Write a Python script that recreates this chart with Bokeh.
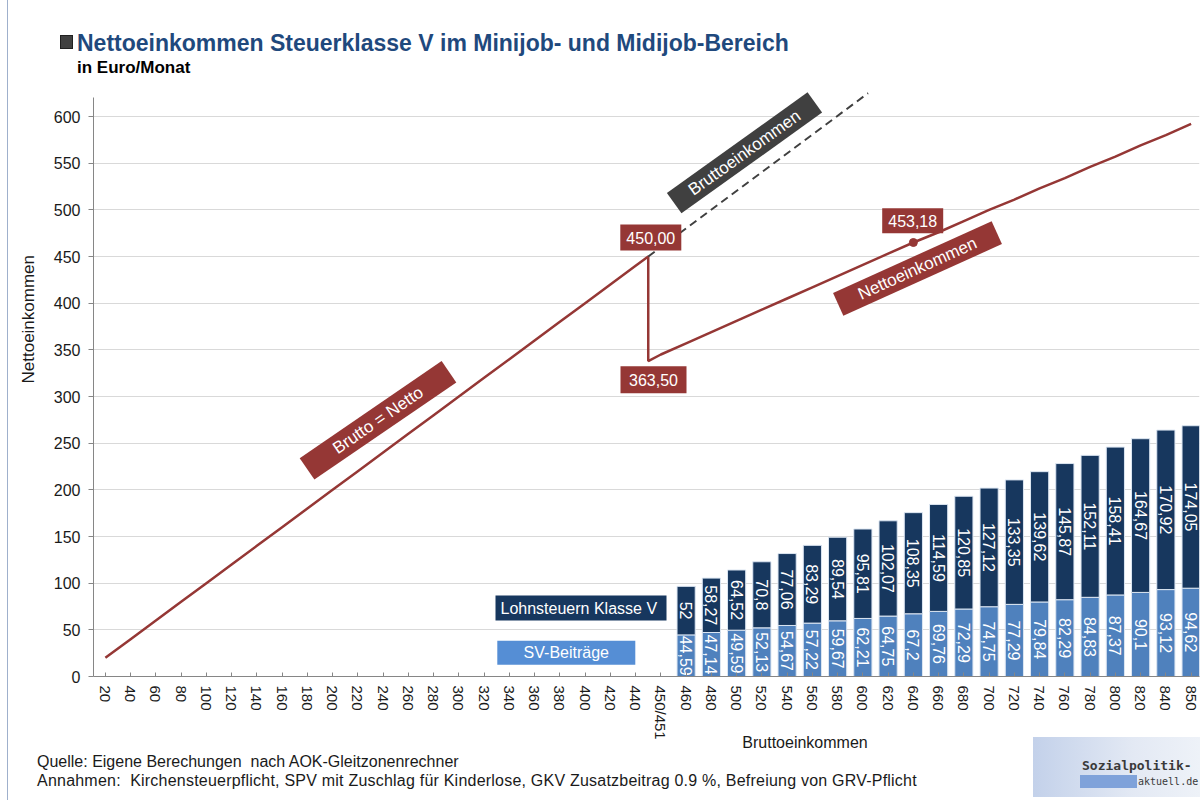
import math
from bokeh.plotting import figure
from bokeh.models import FixedTicker, Range1d, Title, Div
from bokeh.layouts import column
from bokeh.core.properties import value
from bokeh.embed import file_html
from bokeh.resources import INLINE

# ---------------- data ----------------
categories = ["20", "40", "60", "80", "100", "120", "140", "160", "180", "200",
              "220", "240", "260", "280", "300", "320", "340", "360", "380", "400",
              "420", "440", "450/451", "460", "480", "500", "520", "540", "560", "580",
              "600", "620", "640", "660", "680", "700", "720", "740", "760", "780",
              "800", "820", "840", "850"]

bar_categories = ["460", "480", "500", "520", "540", "560", "580", "600", "620", "640",
                  "660", "680", "700", "720", "740", "760", "780", "800", "820", "840", "850"]
sv_beitraege = [44.59, 47.14, 49.59, 52.13, 54.67, 57.22, 59.67, 62.21, 64.75, 67.2,
                69.76, 72.29, 74.75, 77.29, 79.84, 82.29, 84.83, 87.37, 90.1, 93.12, 94.62]
lohnsteuer_v = [52, 58.27, 64.52, 70.8, 77.06, 83.29, 89.54, 95.81, 102.07, 108.35,
                114.59, 120.85, 127.12, 133.35, 139.62, 145.87, 152.11, 158.41, 164.67, 170.92, 174.05]

# net income line (Minijob part: Brutto = Netto)
minijob_categories = categories[:22]
minijob_net = [20, 40, 60, 80, 100, 120, 140, 160, 180, 200, 220, 240, 260, 280,
               300, 320, 340, 360, 380, 400, 420, 440]
jump_values = [450.0, 338.0]          # 450,00 -> drop at the Midijob threshold
midijob_categories = categories[22:]
midijob_net = [345, 357, 369, 381, 393, 405, 417, 429, 441, 453, 465, 476,
               488, 500, 511, 523, 534, 546, 557, 569, 580, 592]
brutto_cont = [450, 625]              # dashed Bruttoeinkommen continuation
marker_category = "640"
marker_value = 465

title_text = "Nettoeinkommen Steuerklasse V im Minijob- und Midijob-Bereich"
subtitle_text = "in Euro/Monat"
y_title = "Nettoeinkommen"
x_title = "Bruttoeinkommen"
note_source = "Quelle: Eigene Berechungen  nach AOK-Gleitzonenrechner"
note_assumptions = ("Annahmen:  Kirchensteuerpflicht, SPV mit Zuschlag für Kinderlose, "
                    "GKV Zusatzbeitrag 0.9 %, Befreiung von GRV-Pflicht")

RED = "#953735"
NAVY = "#17375E"
BLUE = "#4F81BD"
FONT = "Liberation Sans"

pos = {c: i for i, c in enumerate(categories)}

# page-pixel helpers for annotation placement
XS, YS = 25.25, 0.93333
X_START = -0.47
FRAME_L, FRAME_R, FRAME_T, FRAME_B = 93, 1199, 90, 676
X0 = FRAME_L - X_START * XS
Y0 = FRAME_B
def dx(px):
    return (px - X0) / XS
def dy(py):
    return (Y0 - py) / YS

FIG_H = 742
p = figure(width=1203, height=FIG_H,
           x_range=Range1d(X_START, X_START + (FRAME_R - FRAME_L) / XS),
           y_range=Range1d(0, (FRAME_B - FRAME_T) / YS),
           output_backend="svg", toolbar_location=None,
           min_border_left=FRAME_L, min_border_right=1203 - FRAME_R, min_border_top=FRAME_T,
           min_border_bottom=FIG_H - FRAME_B)
p.outline_line_color = None
p.background_fill_color = "white"
p.border_fill_color = "white"

# axes
p.yaxis.ticker = FixedTicker(ticks=[0, 50, 100, 150, 200, 250, 300, 350, 400, 450, 500, 550, 600])
p.yaxis.bounds = (0, 620)
p.ygrid.ticker = p.yaxis.ticker
p.ygrid.grid_line_color = "#d9d9d9"
p.xgrid.visible = False
p.yaxis.axis_line_color = "#868686"
p.yaxis.major_tick_line_color = "#868686"
p.yaxis.major_tick_out = 5
p.yaxis.major_tick_in = 0
p.yaxis.minor_tick_line_color = None
p.yaxis.major_label_text_font = FONT
p.yaxis.major_label_text_font_size = "16px"
p.yaxis.major_label_text_color = "#1a1a1a"
p.yaxis.major_label_standoff = 8

p.xaxis.ticker = FixedTicker(ticks=list(range(len(categories))))
p.xaxis.major_label_overrides = {i: c for i, c in enumerate(categories)}
p.xaxis.major_label_orientation = "vertical"
p.xaxis.axis_line_color = "#868686"
p.xaxis.major_tick_line_color = "#868686"
p.xaxis.major_tick_in = 4
p.xaxis.major_tick_out = 0
p.xaxis.minor_tick_line_color = None
p.xaxis.major_label_text_font = FONT
p.xaxis.major_label_text_font_size = "15px"
p.xaxis.major_label_text_color = "#1a1a1a"
p.xaxis.major_label_standoff = 9

ytitle = Title(text=y_title, align="left", offset=FRAME_B - 383, vertical_align="middle",
               standoff=24, text_font=FONT, text_font_size="17px", text_font_style="normal",
               text_color="#1a1a1a")
p.add_layout(ytitle, "left")

# bars
bx = [pos[c] for c in bar_categories]
tops = [s + l for s, l in zip(sv_beitraege, lohnsteuer_v)]
p.vbar(x=bx, bottom=0, top=sv_beitraege, width=0.72, fill_color=BLUE, line_color="#dce6f2", line_width=1)
p.vbar(x=bx, bottom=sv_beitraege, top=tops, width=0.72, fill_color=NAVY, line_color="#dce6f2", line_width=1)

def fmt(v):
    return f"{v:g}".replace(".", ",")

p.text(x=bx, y=[s / 2 for s in sv_beitraege], text=[fmt(v) for v in sv_beitraege],
       angle=-math.pi / 2, text_align="center", text_baseline="middle",
       text_color="white", text_font=value(FONT), text_font_size="16px")
p.text(x=bx, y=[s + l / 2 for s, l in zip(sv_beitraege, lohnsteuer_v)], text=[fmt(v) for v in lohnsteuer_v],
       angle=-math.pi / 2, text_align="center", text_baseline="middle",
       text_color="white", text_font=value(FONT), text_font_size="16px")

# lines
jump_x = pos["450/451"] - 0.5
line_x = [pos[c] for c in minijob_categories] + [jump_x, jump_x] + [pos[c] for c in midijob_categories]
line_y = minijob_net + jump_values + midijob_net
p.line(line_x, line_y, line_color=RED, line_width=2.5)

slope_per_cat = 20.1  # Brutto rises ~20 per category step
p.line([jump_x, jump_x + (brutto_cont[1] - brutto_cont[0]) / slope_per_cat], brutto_cont,
       line_color="#404040", line_width=2, line_dash="8 5")
p.scatter([pos[marker_category]], [marker_value], size=8, fill_color=RED, line_color=RED)

# boxed annotations
def box(cx, cy, w, h, ang, fill, txt, size):
    a = math.radians(ang)
    p.rect(x=[dx(cx)], y=[dy(cy)], width=w, height=h, width_units="screen", height_units="screen",
           angle=a, fill_color=fill, line_color=None)
    p.text(x=[dx(cx)], y=[dy(cy)], text=[txt], angle=a, text_align="center", text_baseline="middle",
           text_color="white", text_font=value(FONT), text_font_size=size)

box(377.5, 419.8, 172, 26, 34.4, RED, "Brutto = Netto", "17px")
box(744.0, 152.3, 173, 25, 35.6, "#404040", "Bruttoeinkommen", "17px")
box(917.0, 268.0, 174, 25, 24.3, RED, "Nettoeinkommen", "17px")
box(650.3, 237.0, 61, 26, 0, RED, "450,00", "16px")
box(653.0, 379.3, 66, 27, 0, RED, "363,50", "16px")
box(912.2, 220.3, 61, 25, 0, RED, "453,18", "16px")
box(580.5, 607.5, 171, 25, 0, NAVY, "Lohnsteuern  Klasse V", "16px")
box(565.8, 652.2, 138, 24, 0, "#558ED5", "SV-Beiträge", "16px")

# overlay with title, x-axis title, notes and logo (page coordinates)
def top(center, lh):
    return center - lh / 2

overlay_html = f"""
<div style="position:relative;width:1203px;height:800px;font-family:'Liberation Sans',Arial,sans-serif;color:#1a1a1a;pointer-events:none;">
  <div style="position:absolute;left:7px;top:0px;width:1px;height:800px;background:#9fb0cc;"></div>
  <div style="position:absolute;left:60px;top:35px;width:13px;height:14px;background:#404040;border:1px solid #202020;"></div>
  <div style="position:absolute;left:77px;top:{top(43,26)}px;font-size:23px;line-height:26px;font-weight:bold;color:#1F497D;white-space:pre;">{title_text}</div>
  <div style="position:absolute;left:77px;top:{top(68,20)}px;font-size:17px;line-height:20px;font-weight:bold;color:black;white-space:pre;">{subtitle_text}</div>
  <div style="position:absolute;left:705px;width:200px;text-align:center;top:{top(743,18)}px;font-size:16px;line-height:18px;">{x_title}</div>
  <div style="position:absolute;left:37px;top:{top(762,18)}px;font-size:16px;line-height:18px;white-space:pre;">{note_source}</div>
  <div style="position:absolute;left:37px;top:{top(781,18)}px;font-size:16px;line-height:18px;white-space:pre;letter-spacing:0.22px;">{note_assumptions}</div>
  <div style="position:absolute;left:1033px;top:737px;width:167px;height:60px;background:linear-gradient(to right,#c3d1ea,#e3e9f4 60%,#eef2f8);"></div>
  <div style="position:absolute;left:1080px;top:775px;width:57px;height:13px;background:#7fa2da;"></div>
  <div style="position:absolute;left:1082px;top:{top(766,18)}px;font-family:'DejaVu Sans Mono',monospace;font-weight:bold;font-size:13px;line-height:18px;color:#3a3a3a;">Sozialpolitik-</div>
  <div style="position:absolute;left:1138px;top:{top(782,14)}px;font-family:'DejaVu Sans Mono',monospace;font-size:10px;line-height:14px;color:#3a3a3a;">aktuell.de</div>
</div>
"""
overlay = Div(text=overlay_html, width=1203, height=800, margin=(-FIG_H, 0, 0, 0))

layout = column(p, overlay, spacing=0)
open("out.html", "w").write(file_html(layout, INLINE))
